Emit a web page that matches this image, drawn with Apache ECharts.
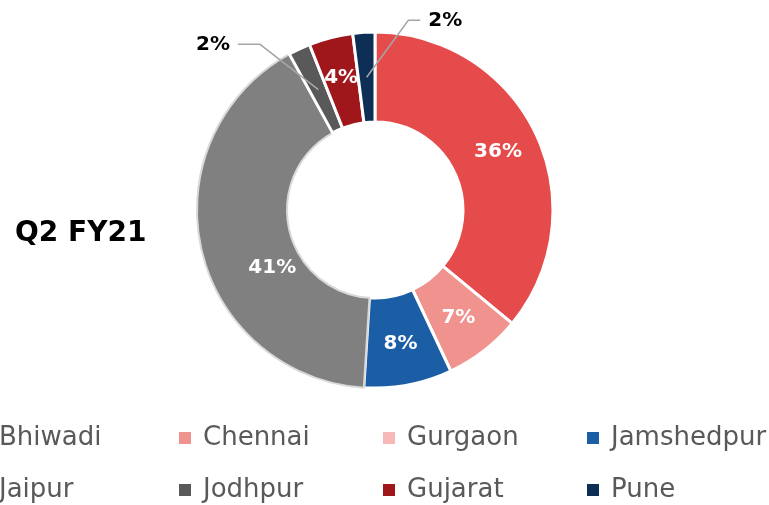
<!DOCTYPE html>
<html>
<head>
<meta charset="utf-8">
<style>
    html, body { margin: 0; padding: 0; background: #fff; }
    #chart { width: 769px; height: 505px; }
</style>
<script src="https://cdn.jsdelivr.net/npm/echarts@6/dist/echarts.min.js"></script>
</head>
<body>
<div id="chart"></div>
<script>
    // plant share, Q2 FY21
    var plants = ['Bhiwadi', 'Chennai', 'Gurgaon', 'Jamshedpur', 'Jaipur', 'Jodhpur', 'Gujarat', 'Pune'];
    var shares = [36, 7, 0, 8, 41, 2, 4, 2];
    var colors = ['#E64B4C', '#F0938F', '#F7B9B8', '#1B5EA6', '#808080', '#595959', '#A0171B', '#0E2F55'];
    var titleText = 'Q2 FY21';

    var center = [375, 210];
    var innerR = 88, outerR = 178;
    var midR = (innerR + outerR) / 2;

    // small slices get their label outside with a leader line
    var outsideIdx = [5, 7];

    var chart = echarts.init(document.getElementById('chart'));

    // main ring: slices + inside labels
    var ringData = plants.map(function (name, i) {
        var item = {
            name: name,
            value: shares[i],
            itemStyle: { color: colors[i] }
        };
        if (shares[i] === 0 || outsideIdx.indexOf(i) >= 0) {
            item.label = { show: false };
        }
        if (name === 'Jaipur') {
            item.itemStyle.borderColor = '#d9d9d9';
            item.itemStyle.borderWidth = 2;
        }
        return item;
    });

    // overlay ring (transparent) so leader lines sit on top of the slices
    var calloutData = plants.map(function (name, i) {
        var out = outsideIdx.indexOf(i) >= 0;
        return {
            name: name,
            value: shares[i],
            itemStyle: { color: 'rgba(0,0,0,0)' },
            label: { show: out },
            labelLine: { show: out }
        };
    });

    // legend in 4 columns of 2 rows
    var colLeft = [-27, 177, 381, 585];
    var legends = colLeft.map(function (x, c) {
        return {
            orient: 'vertical',
            left: x,
            top: 425,
            padding: 0,
            itemWidth: 14,
            itemHeight: 14,
            itemGap: 26,
            icon: 'rect',
            selectedMode: false,
            data: [plants[c], plants[c + 4]],
            textStyle: {
                fontFamily: 'DejaVu Sans',
                fontSize: 26,
                lineHeight: 26,
                color: '#595959',
                padding: [0, 0, 0, 6]
            }
        };
    });

    // Jaipur label sits lower like Excel's best-fit
    function moveInside(params) {
        if (params.dataIndex === 4) {
            return { dx: 30, dy: 28 };
        }
    }

    // callouts: line starts mid-ring, elbow, short run to the label
    function moveCallout(params) {
        var i = params.dataIndex;
        var r = params.labelRect;
        if (outsideIdx.indexOf(i) < 0 || !params.labelLinePoints) {
            return;
        }
        var shift = i === 7 ? [116, -4] : [-44, -2];
        var edge = params.labelLinePoints[0];
        var start = [
            center[0] + (edge[0] - center[0]) * midR / outerR,
            center[1] + (edge[1] - center[1]) * midR / outerR
        ];
        var ly = r.y + r.height / 2 + shift[1];
        var lineEnd, elbow;
        if (i === 7) {
            lineEnd = r.x + shift[0] - 8;
            elbow = lineEnd - 12;
        } else {
            lineEnd = r.x + r.width + shift[0] + 8;
            elbow = lineEnd + 22;
        }
        return {
            dx: shift[0],
            dy: shift[1],
            labelLinePoints: [start, [elbow, ly], [lineEnd, ly]]
        };
    }

    chart.setOption({
        animation: false,
        title: {
            text: titleText,
            left: 10,
            top: 215,
            textStyle: {
                fontFamily: 'DejaVu Sans',
                fontWeight: 'bold',
                fontSize: 28,
                color: '#000'
            }
        },
        legend: legends,
        series: [{
            type: 'pie',
            center: center,
            radius: [innerR, outerR],
            startAngle: 90,
            clockwise: true,
            itemStyle: {
                borderColor: '#fff',
                borderWidth: 3
            },
            label: {
                show: true,
                position: 'inside',
                formatter: '{c}%',
                fontFamily: 'DejaVu Sans',
                fontWeight: 'bold',
                fontSize: 20,
                color: '#fff'
            },
            labelLine: { show: false },
            labelLayout: moveInside,
            data: ringData
        }, {
            type: 'pie',
            z: 5,
            silent: true,
            center: center,
            radius: [innerR, outerR],
            startAngle: 90,
            clockwise: true,
            itemStyle: { borderWidth: 0 },
            label: {
                position: 'outside',
                formatter: '{c}%',
                fontFamily: 'DejaVu Sans',
                fontWeight: 'bold',
                fontSize: 20,
                color: '#000'
            },
            labelLine: {
                length: 8,
                length2: 12,
                lineStyle: { color: '#a6a6a6', width: 1.5 }
            },
            labelLayout: moveCallout,
            data: calloutData
        }]
    });
</script>
</body>
</html>
